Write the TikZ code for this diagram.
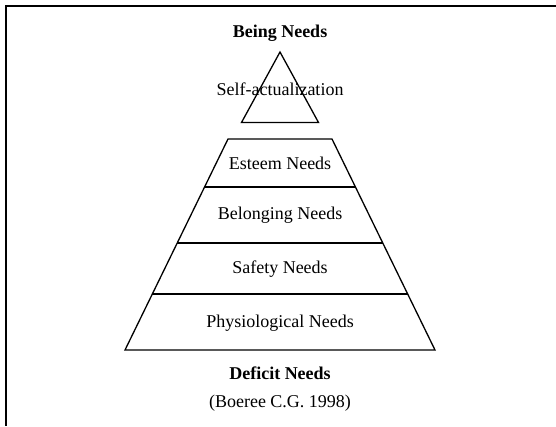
\documentclass[tikz,border=0pt]{standalone}
\usepackage{fontspec}
\setmainfont{Liberation Serif}
\begin{document}
\begin{tikzpicture}[x=1pt,y=-1pt,line width=1.3pt]

  \newcommand\Cx{280}
  \newcommand\Top{139}
  \newcommand\Slope{0.488}

  \useasboundingbox (0,0) rectangle (556,426);
  \fontsize{18}{22}\selectfont

  \draw (5,6) -- (556,6); %% frame, top
  \draw (6,6) -- (6,426); %% frame, left

  %% self-actualization
  \draw (\Cx,52) -- (\Cx+38.5,122.5) -- (\Cx-38.5,122.5) -- cycle;

  %% deficit part
  \draw (\Cx-52,\Top) -- (\Cx+52,\Top) -- (\Cx+155,350) -- (\Cx-155,350) -- cycle;
  \foreach \yy in {187,243,294}
    \draw ({\Cx-52-(\yy-\Top)*\Slope},\yy) -- ({\Cx+52+(\yy-\Top)*\Slope},\yy);

  \node (being)  at (\Cx,33)  {\textbf{Being Needs}};
  \node (self)   at (\Cx,89)  {Self-actualization};
  \node (esteem) at (\Cx,163) {Esteem Needs};
  \node (belong) at (\Cx,215) {Belonging Needs};
  \node (safety) at (\Cx,269) {Safety Needs};
  \node (physio) at (\Cx,323) {Physiological Needs};
  \node (deficit) at (\Cx,373) {\textbf{Deficit Needs}};
  \node (source)  at (\Cx,403) {(Boeree C.G. 1998)};

\end{tikzpicture}
\end{document}
